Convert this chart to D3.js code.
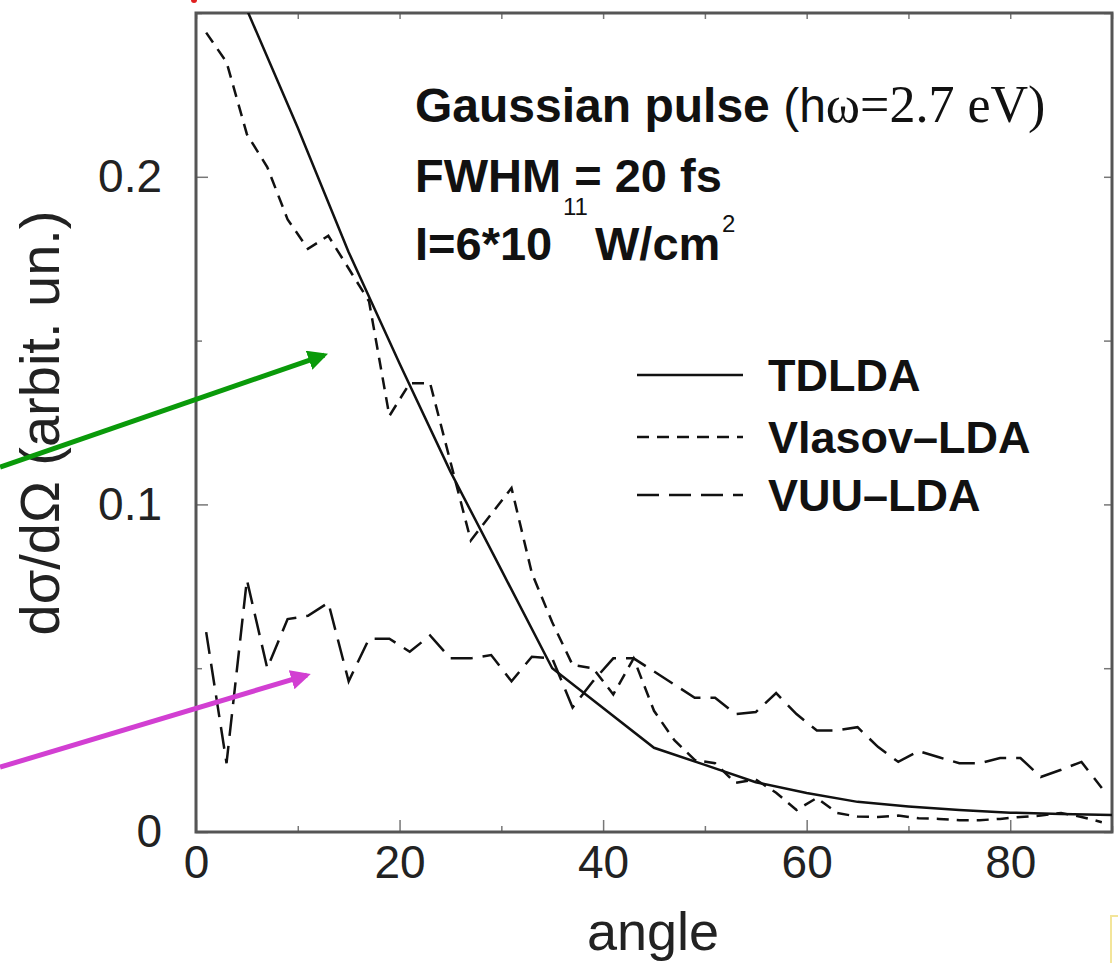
<!DOCTYPE html>
<html>
<head>
<meta charset="utf-8">
<script src="https://cdn.jsdelivr.net/npm/d3@7"></script>
<style>
  body { margin: 0; background: #fff; }
  svg { display: block; font-family: "Liberation Sans", Arial, Helvetica, sans-serif; }
</style>
</head>
<body>
<svg width="1118" height="963"></svg>
<script>
// angles sampled for the Vlasov and VUU runs
var angles = [1,3,5,7,9,11,13,15,17,19,21,23,25,27,29,31,33,35,37,39,41,43,45,
              47,49,51,53,55,57,59,61,63,65,67,69,71,73,75,77,79,81,83,85,87,89];

var vlasov = [0.244,0.235,0.213,0.203,0.187,0.178,0.182,0.172,0.162,0.127,0.137,0.137,
              0.113,0.089,0.097,0.105,0.079,0.064,0.051,0.050,0.042,0.053,0.037,0.028,
              0.022,0.021,0.015,0.016,0.012,0.0067,0.0104,0.0058,0.0047,0.0046,0.0050,
              0.0042,0.0040,0.0036,0.0036,0.0040,0.0046,0.0050,0.0058,0.0046,0.0030];

var vuu = [0.061,0.021,0.077,0.050,0.065,0.066,0.070,0.046,0.059,0.059,0.055,0.060,
           0.053,0.053,0.054,0.046,0.0535,0.053,0.038,0.046,0.053,0.053,0.049,0.045,
           0.041,0.041,0.036,0.0366,0.0424,0.036,0.031,0.031,0.032,0.026,0.0214,0.0247,
           0.0228,0.021,0.021,0.0226,0.0226,0.0168,0.019,0.0214,0.0134];

// TDLDA is a smooth curve, read at coarser angles
var tdAngles = [0,5,10,15,20,25,30,35,45,50,55,60,65,70,75,80,85,90];
var tdlda = [0.287,0.251,0.215,0.177,0.143,0.110,0.080,0.050,0.0257,0.0205,0.0152,
             0.0119,0.0092,0.0078,0.0067,0.0059,0.0055,0.0052];

var xTicks = [0,20,40,60,80];
var xMinor = [10,30,50,70,90];
var yTicks = [0,0.1,0.2];
var yTickLabels = ["0","0.1","0.2"];
var yMinor = [0.05,0.15,0.25];

var legendNames = ["TDLDA","Vlasov\u2013LDA","VUU\u2013LDA"];
var legendDash = [null,"12,8","22,10"];

var svg = d3.select("svg");
var pLeft = 196, pRight = 1112, pTop = 13, pBottom = 832;

var x = d3.scaleLinear().domain([0,90]).range([pLeft,pRight]);
var y = d3.scaleLinear().domain([0,0.25]).range([pBottom,pTop]);

svg.append("clipPath").attr("id","plotclip")
  .append("rect").attr("x",pLeft).attr("y",pTop)
  .attr("width",pRight-pLeft).attr("height",pBottom-pTop);

// axes, ticks pointing inwards
var gx = svg.append("g").attr("transform","translate(0,"+pBottom+")")
  .call(d3.axisBottom(x).tickValues(xTicks).tickSizeInner(-12).tickSizeOuter(0).tickPadding(13));
var gxm = svg.append("g").attr("transform","translate(0,"+pBottom+")")
  .call(d3.axisBottom(x).tickValues(xMinor).tickSizeInner(-6).tickSizeOuter(0).tickFormat(""));
var gxt = svg.append("g").attr("transform","translate(0,"+pTop+")")
  .call(d3.axisTop(x).tickValues(xTicks.concat(xMinor)).tickSizeInner(-6).tickSizeOuter(0).tickFormat(""));
var gy = svg.append("g").attr("transform","translate("+pLeft+",0)")
  .call(d3.axisLeft(y).tickValues(yTicks).tickSizeInner(-12).tickSizeOuter(0).tickPadding(34)
    .tickFormat(function(d,i){ return yTickLabels[i]; }));
var gym = svg.append("g").attr("transform","translate("+pLeft+",0)")
  .call(d3.axisLeft(y).tickValues(yMinor).tickSizeInner(-6).tickSizeOuter(0).tickFormat(""));
var gyr = svg.append("g").attr("transform","translate("+pRight+",0)")
  .call(d3.axisRight(y).tickValues(yTicks.concat(yMinor)).tickSizeInner(-8).tickSizeOuter(0).tickFormat(""));

[gx,gxm,gxt,gy,gym,gyr].forEach(function(g){
  g.select(".domain").remove();
  g.selectAll(".tick line").attr("stroke","#777").attr("stroke-width",1.5);
  g.selectAll(".tick text").attr("font-size",46).attr("fill","#222")
    .attr("font-family","'Liberation Sans', Arial, sans-serif");
});

// frame
svg.append("rect").attr("x",pLeft).attr("y",pTop)
  .attr("width",pRight-pLeft).attr("height",pBottom-pTop)
  .attr("fill","none").attr("stroke","#555").attr("stroke-width",3);

var plot = svg.append("g").attr("clip-path","url(#plotclip)");

var line = d3.line()
  .x(function(d){ return x(d[0]); })
  .y(function(d){ return y(d[1]); });

plot.append("path")
  .datum(d3.zip(tdAngles, tdlda))
  .attr("d", line).attr("fill","none").attr("stroke","#111").attr("stroke-width",2.5);

plot.append("path")
  .datum(d3.zip(angles, vlasov))
  .attr("d", line).attr("fill","none").attr("stroke","#111").attr("stroke-width",2.5)
  .attr("stroke-dasharray",legendDash[1]);

plot.append("path")
  .datum(d3.zip(angles, vuu))
  .attr("d", line).attr("fill","none").attr("stroke","#111").attr("stroke-width",2.5)
  .attr("stroke-dasharray",legendDash[2]);

// axis titles
svg.append("text")
  .attr("x",653).attr("y",950).attr("text-anchor","middle")
  .attr("font-size",54).attr("fill","#222").text("angle");

svg.append("text")
  .attr("transform","translate(59,423) rotate(-90)")
  .attr("text-anchor","middle").attr("font-size",56).attr("fill","#222")
  .text("d\u03c3/d\u03a9 (arbit. un.)");

// annotation block
var note = svg.append("g").attr("font-weight","bold").attr("fill","#111");
var t1 = note.append("text").attr("x",415).attr("y",122).attr("font-size",48);
t1.append("tspan").text("Gaussian pulse ");
t1.append("tspan").attr("font-weight","normal").text("(h");
t1.append("tspan").attr("font-weight","normal")
  .attr("font-family","'Liberation Serif', 'Times New Roman', serif")
  .attr("font-size",52).text("\u03c9=2.7 eV)");

note.append("text").attr("x",415).attr("y",192).attr("font-size",47).text("FWHM = 20 fs");
note.append("text").attr("x",563).attr("y",215).attr("font-size",24).attr("font-weight","normal").text("11");
var t3 = note.append("text").attr("x",415).attr("y",260).attr("font-size",47);
t3.append("tspan").text("I=6*10");
t3.append("tspan").attr("x",595).text("W/cm");
note.append("text").attr("x",722).attr("y",232).attr("font-size",24).attr("font-weight","normal").text("2");

// legend
var legY = d3.scaleOrdinal().domain(legendNames).range([375,437,495]);
var leg = svg.append("g");
legendNames.forEach(function(name,i){
  leg.append("line")
    .attr("x1",637).attr("x2",743).attr("y1",legY(name)).attr("y2",legY(name))
    .attr("stroke","#111").attr("stroke-width",2.5)
    .attr("stroke-dasharray",legendDash[i]);
  leg.append("text")
    .attr("x",768).attr("y",legY(name)+16)
    .attr("font-size",45).attr("font-weight","bold").attr("fill","#111")
    .text(name);
});

// coloured pointer arrows
var defs = svg.append("defs");
[["agreen","#0a9a0a"],["amag","#d23fd2"]].forEach(function(m){
  defs.append("marker").attr("id",m[0]).attr("viewBox","0 0 10 10")
    .attr("refX",8).attr("refY",5).attr("markerWidth",4).attr("markerHeight",4)
    .attr("orient","auto")
    .append("path").attr("d","M0,0 L10,5 L0,10 z").attr("fill",m[1]);
});
svg.append("line")
  .attr("x1",x(-19.25)).attr("y1",y(0.1114)).attr("x2",x(12.6)).attr("y2",y(0.1456))
  .attr("stroke","#0a9a0a").attr("stroke-width",5).attr("marker-end","url(#agreen)");
svg.append("line")
  .attr("x1",x(-19.25)).attr("y1",y(0.0198)).attr("x2",x(10.9)).attr("y2",y(0.0479))
  .attr("stroke","#d23fd2").attr("stroke-width",5).attr("marker-end","url(#amag)");

// small marks left over from the source figure
svg.append("circle").attr("cx",194).attr("cy",0).attr("r",3).attr("fill","#e02020");
svg.append("rect").attr("x",1111).attr("y",916).attr("width",20).attr("height",60)
  .attr("fill","none").attr("stroke","#f3e59a").attr("stroke-width",2);
</script>
</body>
</html>
